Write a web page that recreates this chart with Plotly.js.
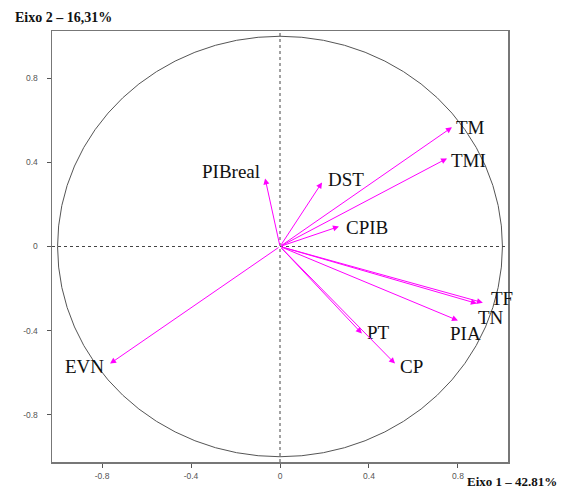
<!DOCTYPE html>
<html><head><meta charset="utf-8">
<script src="https://cdn.plot.ly/plotly-3.0.1.min.js"></script>
<style>body{margin:0;background:#fff}#c{width:561px;height:490px}</style>
</head><body><div id="c"></div>
<script>
const variables = ["TM","TMI","PIBreal","DST","CPIB","TF","TN","PIA","PT","CP","EVN"];
const axis1 = [0.773,0.751,-0.067,0.189,0.265,0.912,0.885,0.800,0.368,0.517,-0.764];
const axis2 = [0.567,0.419,0.324,0.305,0.095,-0.267,-0.271,-0.352,-0.414,-0.557,-0.557];
const tickVals = [-0.8,-0.4,0,0.4,0.8];
const tickText = ["-0.8","-0.4","0","0.4","0.8"];
const titleY = "Eixo 2 – 16,31%";
const titleX = "Eixo 1 – 42.81%";

// label placement styles (pixel offsets), per variable
const labelStyle = {
  TM:{xa:"left",dx:2,dy:0}, TMI:{xa:"left",dx:2,dy:-2}, PIBreal:{xa:"right",dx:-3,dy:7},
  DST:{xa:"left",dx:4,dy:3}, CPIB:{xa:"left",dx:5,dy:-1}, TF:{xa:"left",dx:6,dy:4},
  TN:{xa:"left",dx:-1,dy:-14}, PIA:{xa:"center",dx:8,dy:-13}, PT:{xa:"left",dx:3,dy:1},
  CP:{xa:"left",dx:3,dy:-3}, EVN:{xa:"right",dx:-4,dy:-3}
};

const anns = [];
variables.forEach((v,i)=>{
  anns.push({x:axis1[i],y:axis2[i],ax:0,ay:0,xref:"x",yref:"y",axref:"x",ayref:"y",
    text:"",showarrow:true,arrowhead:2,arrowsize:1.2,arrowwidth:1,arrowcolor:"#ff00ff"});
  const s = labelStyle[v];
  anns.push({x:axis1[i],y:axis2[i],xref:"x",yref:"y",text:v,showarrow:false,
    xanchor:s.xa,yanchor:"middle",xshift:s.dx,yshift:s.dy,
    font:{family:"Liberation Serif, Times New Roman, serif",size:19,color:"#111"}});
});
anns.push({xref:"paper",yref:"paper",x:-0.085,y:1.031,xanchor:"left",yanchor:"middle",
  text:"<b>"+titleY+"</b>",showarrow:false,
  font:{family:"Liberation Serif, Times New Roman, serif",size:14,color:"#111"}});
anns.push({xref:"paper",yref:"paper",x:1.112,y:-0.046,xanchor:"right",yanchor:"middle",
  text:"<b>"+titleX+"</b>",showarrow:false,
  font:{family:"Liberation Serif, Times New Roman, serif",size:13,color:"#111"}});

const axisCommon = {range:[-1.025,1.025],tickvals:tickVals,ticktext:tickText,showgrid:false,zeroline:false,
  showline:true,mirror:true,linecolor:"#777",linewidth:1.5,ticks:"outside",ticklen:4,tickcolor:"#555",
  tickfont:{family:"Liberation Sans, Arial, sans-serif",size:8.5,color:"#555"},fixedrange:true};

const layout = {
  width:561,height:490,margin:{l:52,r:53,t:31,b:28},paper_bgcolor:"#fff",plot_bgcolor:"#fff",
  showlegend:false,
  xaxis:Object.assign({},axisCommon,{ticklabelstandoff:1}),
  yaxis:Object.assign({},axisCommon,{ticklabelstandoff:7}),
  shapes:[
    {type:"circle",xref:"x",yref:"y",x0:-1,x1:1,y0:-1,y1:1,line:{color:"#555",width:1}},
    {type:"line",xref:"x",yref:"paper",x0:0,x1:0,y0:0,y1:1,line:{color:"#444",width:1,dash:"dot"}},
    {type:"line",xref:"paper",yref:"y",x0:0,x1:1,y0:0,y1:0,line:{color:"#444",width:1,dash:"dot"}}
  ],
  annotations:anns
};
Plotly.newPlot("c",[{x:axis1,y:axis2,mode:"markers",marker:{size:1,opacity:0},hoverinfo:"skip",type:"scatter"}],layout,{staticPlot:true});
</script></body></html>
